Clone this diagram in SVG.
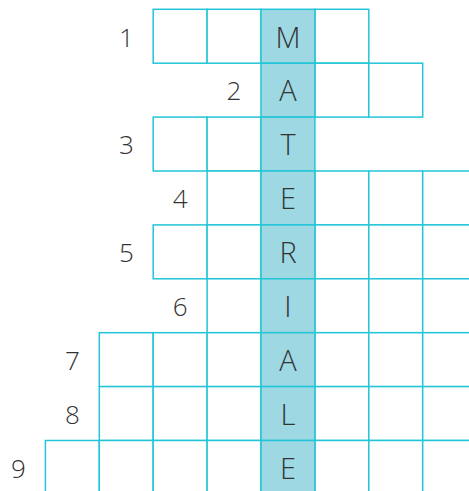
<svg xmlns="http://www.w3.org/2000/svg" width="469" height="491" viewBox="0 0 469 491">
<style>
.c{fill:#ffffff;stroke:#22c6d8;stroke-width:1.5}
.h{fill:#9dd8e3;stroke:#22c6d8;stroke-width:1.5}
.n{font-family:"Open Sans","DejaVu Sans",sans-serif;font-weight:300;font-size:26px;fill:#333333;text-anchor:middle}
.l{font-family:"Open Sans","DejaVu Sans",sans-serif;font-weight:300;font-size:29px;fill:#333333;text-anchor:middle}
</style>
<rect width="469" height="491" fill="#ffffff"/>
<g id="row1">
<rect class="c" x="153.2" y="9.3" width="53.9" height="53.9"/>
<rect class="c" x="207.1" y="9.3" width="53.9" height="53.9"/>
<rect class="c" x="314.9" y="9.3" width="53.9" height="53.9"/>
<rect class="h" x="261" y="9.3" width="53.9" height="53.9"/>
<text class="n" x="126.3" y="46.5">1</text>
<text class="l" x="288" y="47.5">M</text>
</g>
<g id="row2">
<rect class="c" x="314.9" y="63.2" width="53.9" height="53.9"/>
<rect class="c" x="368.8" y="63.2" width="53.9" height="53.9"/>
<rect class="h" x="261" y="63.2" width="53.9" height="53.9"/>
<text class="n" x="234" y="100.4">2</text>
<text class="l" x="288" y="101.4">A</text>
</g>
<g id="row3">
<rect class="c" x="153.2" y="117.1" width="53.9" height="53.9"/>
<rect class="c" x="207.1" y="117.1" width="53.9" height="53.9"/>
<rect class="h" x="261" y="117.1" width="53.9" height="53.9"/>
<text class="n" x="126.3" y="154.3">3</text>
<text class="l" x="288" y="155.3">T</text>
</g>
<g id="row4">
<rect class="c" x="207.1" y="171" width="53.9" height="53.9"/>
<rect class="c" x="314.9" y="171" width="53.9" height="53.9"/>
<rect class="c" x="368.8" y="171" width="53.9" height="53.9"/>
<rect class="c" x="422.7" y="171" width="53.9" height="53.9"/>
<rect class="h" x="261" y="171" width="53.9" height="53.9"/>
<text class="n" x="180.2" y="208.2">4</text>
<text class="l" x="288" y="209.2">E</text>
</g>
<g id="row5">
<rect class="c" x="153.2" y="224.9" width="53.9" height="53.9"/>
<rect class="c" x="207.1" y="224.9" width="53.9" height="53.9"/>
<rect class="c" x="314.9" y="224.9" width="53.9" height="53.9"/>
<rect class="c" x="368.8" y="224.9" width="53.9" height="53.9"/>
<rect class="c" x="422.7" y="224.9" width="53.9" height="53.9"/>
<rect class="h" x="261" y="224.9" width="53.9" height="53.9"/>
<text class="n" x="126.3" y="262.1">5</text>
<text class="l" x="288" y="263.1">R</text>
</g>
<g id="row6">
<rect class="c" x="207.1" y="278.8" width="53.9" height="53.9"/>
<rect class="c" x="314.9" y="278.8" width="53.9" height="53.9"/>
<rect class="c" x="368.8" y="278.8" width="53.9" height="53.9"/>
<rect class="c" x="422.7" y="278.8" width="53.9" height="53.9"/>
<rect class="h" x="261" y="278.8" width="53.9" height="53.9"/>
<text class="n" x="180.2" y="316">6</text>
<text class="l" x="288" y="317">I</text>
</g>
<g id="row7">
<rect class="c" x="99.3" y="332.7" width="53.9" height="53.9"/>
<rect class="c" x="153.2" y="332.7" width="53.9" height="53.9"/>
<rect class="c" x="207.1" y="332.7" width="53.9" height="53.9"/>
<rect class="c" x="314.9" y="332.7" width="53.9" height="53.9"/>
<rect class="c" x="368.8" y="332.7" width="53.9" height="53.9"/>
<rect class="c" x="422.7" y="332.7" width="53.9" height="53.9"/>
<rect class="h" x="261" y="332.7" width="53.9" height="53.9"/>
<text class="n" x="72.4" y="369.9">7</text>
<text class="l" x="288" y="370.9">A</text>
</g>
<g id="row8">
<rect class="c" x="99.3" y="386.6" width="53.9" height="53.9"/>
<rect class="c" x="153.2" y="386.6" width="53.9" height="53.9"/>
<rect class="c" x="207.1" y="386.6" width="53.9" height="53.9"/>
<rect class="c" x="314.9" y="386.6" width="53.9" height="53.9"/>
<rect class="c" x="368.8" y="386.6" width="53.9" height="53.9"/>
<rect class="c" x="422.7" y="386.6" width="53.9" height="53.9"/>
<rect class="h" x="261" y="386.6" width="53.9" height="53.9"/>
<text class="n" x="72.4" y="423.8">8</text>
<text class="l" x="288" y="424.8">L</text>
</g>
<g id="row9">
<rect class="c" x="45.4" y="440.5" width="53.9" height="53.9"/>
<rect class="c" x="99.3" y="440.5" width="53.9" height="53.9"/>
<rect class="c" x="153.2" y="440.5" width="53.9" height="53.9"/>
<rect class="c" x="207.1" y="440.5" width="53.9" height="53.9"/>
<rect class="c" x="314.9" y="440.5" width="53.9" height="53.9"/>
<rect class="c" x="368.8" y="440.5" width="53.9" height="53.9"/>
<rect class="c" x="422.7" y="440.5" width="53.9" height="53.9"/>
<rect class="h" x="261" y="440.5" width="53.9" height="53.9"/>
<text class="n" x="18.5" y="477.7">9</text>
<text class="l" x="288" y="478.7">E</text>
</g>
<g id="connectors"/>
</svg>
